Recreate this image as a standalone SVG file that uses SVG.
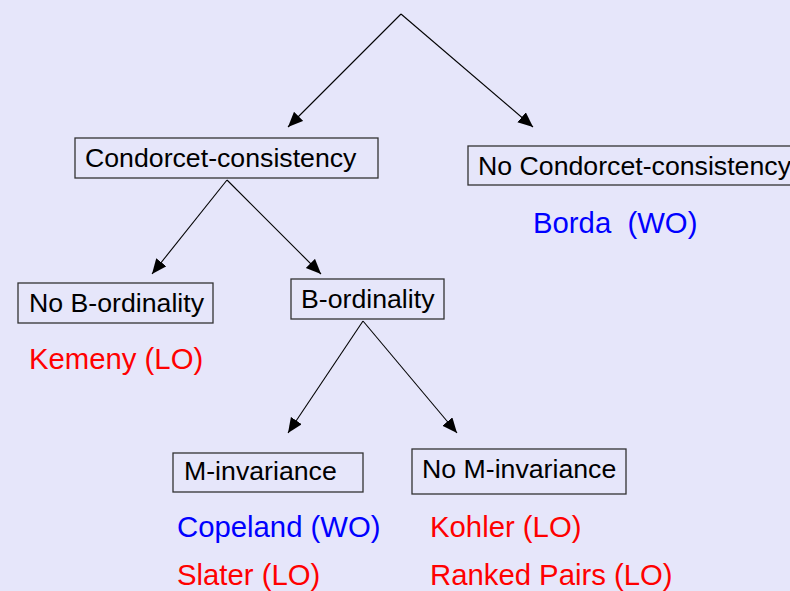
<svg xmlns="http://www.w3.org/2000/svg" width="790" height="591" viewBox="0 0 790 591">
<style>
.box{fill:none;stroke:#333;stroke-width:1.3}
.t{font-family:"Liberation Sans",Arial,sans-serif;font-size:26.7px;fill:#000}
.r{fill:#FF0000;font-size:29.3px}
.b{fill:#0000FF;font-size:29.3px}
.c{stroke:#000;stroke-width:1.1;fill:none;marker-end:url(#ah)}
</style>
<defs>
<marker id="ah" markerUnits="userSpaceOnUse" markerWidth="16" markerHeight="14" refX="15" refY="6.5" orient="auto">
<path d="M0,0 L15,6.5 L0,13 z" fill="#000"/>
</marker>
</defs>
<rect width="790" height="591" fill="#E6E6FA"/>
<g id="connectors">
<line class="c" x1="401" y1="14" x2="288" y2="127"/>
<line class="c" x1="401" y1="14" x2="533" y2="127"/>
<line class="c" x1="227" y1="180" x2="152" y2="274"/>
<line class="c" x1="227" y1="180" x2="321" y2="274"/>
<line class="c" x1="363" y1="321" x2="288" y2="433"/>
<line class="c" x1="363" y1="321" x2="457" y2="433"/>
</g>
<g id="condorcet">
<rect class="box" x="75" y="138" width="303" height="40"/>
<text class="t" x="85" y="167">Condorcet-consistency</text>
</g>
<g id="no-condorcet">
<rect class="box" x="468" y="146" width="330" height="39"/>
<text class="t" x="478" y="175">No Condorcet-consistency</text>
<text class="t b" x="533" y="233" xml:space="preserve">Borda  (WO)</text>
</g>
<g id="no-b-ordinality">
<rect class="box" x="18" y="283" width="195" height="40"/>
<text class="t" x="29" y="312">No B-ordinality</text>
<text class="t r" x="29" y="369">Kemeny (LO)</text>
</g>
<g id="b-ordinality">
<rect class="box" x="291" y="279" width="153" height="40"/>
<text class="t" x="301" y="308">B-ordinality</text>
</g>
<g id="m-invariance">
<rect class="box" x="173" y="453" width="190" height="39"/>
<text class="t" x="184" y="480">M-invariance</text>
<text class="t b" x="177" y="537">Copeland (WO)</text>
<text class="t r" x="177" y="585">Slater (LO)</text>
</g>
<g id="no-m-invariance">
<rect class="box" x="412" y="449" width="214" height="45"/>
<text class="t" x="422" y="478">No M-invariance</text>
<text class="t r" x="430" y="537">Kohler (LO)</text>
<text class="t r" x="430" y="585">Ranked Pairs (LO)</text>
</g>
</svg>
